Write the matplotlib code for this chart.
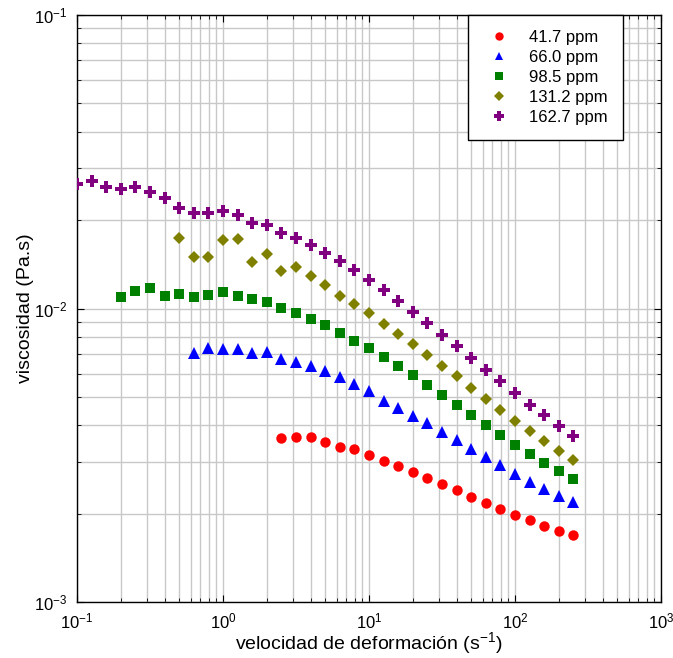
import matplotlib
matplotlib.use("Agg")
import matplotlib.pyplot as plt

plt.rcParams['font.family'] = ['Liberation Sans', 'DejaVu Sans']
plt.rcParams['mathtext.default'] = 'regular'

# shear rate points (1/s), 10 per decade
shear_rate = [0.1, 0.126, 0.158, 0.2, 0.251, 0.316, 0.398, 0.501, 0.631, 0.794,
              1.0, 1.26, 1.58, 2.0, 2.51, 3.16, 3.98, 5.01, 6.31, 7.94,
              10.0, 12.6, 15.8, 20.0, 25.1, 31.6, 39.8, 50.1, 63.1, 79.4,
              100.0, 126.0, 158.0, 200.0, 251.0]

labels = ["41.7 ppm", "66.0 ppm", "98.5 ppm", "131.2 ppm", "162.7 ppm"]

# viscosity (Pa.s); each series starts at a different shear rate index
visc_41 = [0.00361, 0.00364, 0.00365, 0.00350, 0.00338, 0.00331, 0.00317,
           0.00303, 0.00291, 0.00277, 0.00265, 0.00253, 0.00240, 0.00228,
           0.00217, 0.00207, 0.00198, 0.00190, 0.00182, 0.00175, 0.00169]
visc_66 = [0.00707, 0.00735, 0.00728, 0.00726, 0.00704, 0.00709, 0.00673,
           0.00657, 0.00635, 0.00613, 0.00586, 0.00554, 0.00524, 0.00485,
           0.00459, 0.00431, 0.00407, 0.00381, 0.00357, 0.00333, 0.00311,
           0.00292, 0.00274, 0.00257, 0.00243, 0.00230, 0.00219]
visc_98 = [0.01092, 0.01149, 0.01177, 0.01103, 0.01118, 0.01097, 0.01114,
           0.01138, 0.01106, 0.01080, 0.01052, 0.01006, 0.00967, 0.00923,
           0.00877, 0.00827, 0.00778, 0.00732, 0.00684, 0.00637, 0.00593,
           0.00548, 0.00506, 0.00470, 0.00434, 0.00401, 0.00371, 0.00343,
           0.00319, 0.00298, 0.00279, 0.00262]
visc_131 = [0.01735, 0.01494, 0.01500, 0.01710, 0.01730, 0.01440, 0.01530,
            0.01345, 0.01380, 0.01290, 0.01200, 0.01100, 0.01035, 0.00963,
            0.00887, 0.00818, 0.00754, 0.00694, 0.00637, 0.00587, 0.00536,
            0.00490, 0.00452, 0.00415, 0.00382, 0.00353, 0.00328, 0.00305]
visc_162 = [0.02656, 0.02720, 0.02600, 0.02550, 0.02590, 0.02500, 0.02380,
            0.02200, 0.02120, 0.02110, 0.02150, 0.02080, 0.01950, 0.01930,
            0.01810, 0.01740, 0.01650, 0.01550, 0.01450, 0.01350, 0.01250,
            0.01160, 0.01060, 0.00973, 0.00891, 0.00812, 0.00743, 0.00678,
            0.00619, 0.00565, 0.00515, 0.00469, 0.00433, 0.00398, 0.00368]

series = [visc_41, visc_66, visc_98, visc_131, visc_162]
colors = ['#ff0000', '#0000ff', '#008000', '#808000', '#800080']
markers = ['o', '^', 's', 'D', 'P']
sizes = [7.5, 8, 7, 6.5, 8.5]

fig = plt.figure(figsize=(6.73, 6.58), dpi=100)
ax = fig.add_axes([0.1144, 0.0851, 0.8678, 0.8921])

for vals, c, m, s, lab in zip(series, colors, markers, sizes, labels):
    xs = shear_rate[len(shear_rate) - len(vals):]
    ax.plot(xs, vals, linestyle='none', marker=m, color=c, markersize=s,
            markeredgewidth=0, label=lab, zorder=3)

ax.set_xscale('log')
ax.set_yscale('log')
ax.set_xlim(0.1, 1000)
ax.set_ylim(1e-3, 1e-1)

ax.grid(True, which='both', color='#c8c8c8', linewidth=1.0)
ax.set_axisbelow(True)
ax.tick_params(which='both', direction='in', top=True, right=True,
               labelsize=12, colors='black')
ax.tick_params(axis='x', which='major', pad=7)
ax.tick_params(axis='y', which='major', pad=7)
ax.tick_params(which='major', length=5)
ax.tick_params(which='minor', length=3)
for sp in ax.spines.values():
    sp.set_linewidth(1.0)

ax.set_xlabel('velocidad de deformación (s$^{-1}$)', fontsize=14, labelpad=-1)
ax.set_ylabel('viscosidad (Pa.s)', fontsize=14, labelpad=0)

leg = ax.legend(loc='upper right', bbox_to_anchor=(0.935, 1.0), fontsize=12,
                frameon=True, fancybox=False, edgecolor='black',
                framealpha=1.0, markerscale=0.8, handletextpad=0.8,
                borderpad=0.9, labelspacing=0.3, borderaxespad=0)
leg.get_frame().set_linewidth(1.0)

fig.savefig('out.png', dpi=100)
